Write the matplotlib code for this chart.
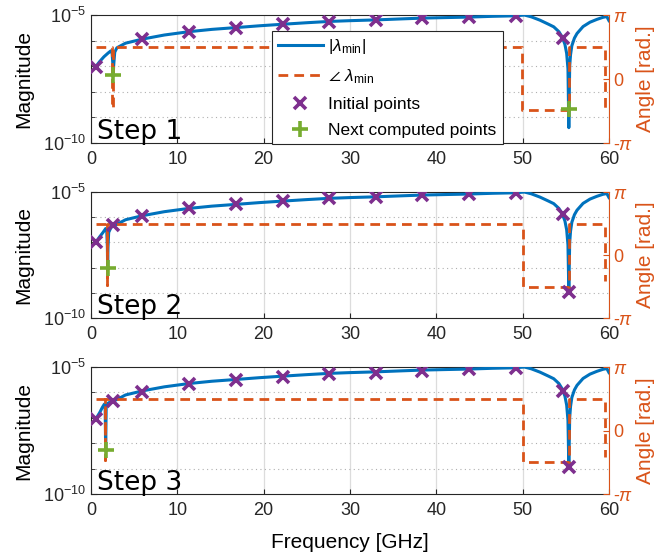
import numpy as np
import matplotlib.pyplot as plt
from matplotlib.ticker import FixedLocator, NullFormatter
from matplotlib.lines import Line2D

plt.rcParams['font.family'] = ['Liberation Sans', 'DejaVu Sans']
plt.rcParams['mathtext.fontset'] = 'custom'
plt.rcParams['mathtext.rm'] = 'Liberation Sans'
plt.rcParams['mathtext.it'] = 'Liberation Sans:italic'
plt.rcParams['mathtext.fallback'] = 'stixsans'

blue = '#0072BD'
orange = '#D95319'
purple = '#7E2F8E'
green = '#77AC30'
axcol = '#262626'

# |lambda_min| in log10, shared part from 3 GHz up to just before the notch near 55 GHz
f_mid = [3.0, 4.0, 5.95, 8.5, 11.35, 14.0, 16.8, 19.5, 22.2, 25.0, 27.6, 30.0, 33.0,
         36.0, 38.4, 41.0, 43.8, 46.5, 49.2, 50.2, 51.0, 52.0, 53.0, 53.6, 54.2, 54.6,
         54.9, 55.1, 55.25]
m_mid = [-6.28, -6.10, -5.94, -5.78, -5.65, -5.56, -5.49, -5.42, -5.36, -5.30, -5.25,
         -5.22, -5.19, -5.15, -5.12, -5.10, -5.08, -5.05, -5.03, -5.0, -5.07, -5.2,
         -5.36, -5.46, -5.65, -5.87, -6.15, -6.5, -7.1]
# right side of the notch, back up to 60 GHz
f_right = [55.45, 55.55, 55.7, 56.0, 56.3, 57.0, 57.8, 58.6, 59.3, 59.75, 60.0]
m_right = [-7.0, -6.55, -6.2, -5.9, -5.72, -5.45, -5.28, -5.17, -5.09, -5.06, -5.22]
f_notch = 55.35
notch_depth = [-9.4, -8.96, -8.95]

# low-frequency part, one per step
f_low1 = [0.55, 1.0, 1.5, 2.0, 2.3, 2.45, 2.55, 2.58, 2.62, 2.75]
m_low1 = [-7.02, -6.82, -6.63, -6.48, -6.40, -6.5, -7.0, -7.34, -7.0, -6.45]
f_low2 = [0.55, 1.0, 1.4, 1.7, 1.82, 1.9, 1.93, 1.97, 2.05, 2.3, 2.6]
m_low2 = [-7.0, -6.78, -6.6, -6.45, -6.5, -7.2, -8.0, -7.2, -6.6, -6.42, -6.33]
f_low3 = [0.55, 1.0, 1.3, 1.55, 1.64, 1.7, 1.76, 1.85, 2.1, 2.6]
m_low3 = [-7.05, -6.8, -6.6, -6.46, -6.55, -8.27, -6.6, -6.45, -6.4, -6.34]

# initial points (purple x)
f_init = [0.55, 5.95, 11.35, 16.8, 22.2, 27.6, 33.0, 38.4, 43.8, 49.2, 54.65]
m_init1 = [-7.02, -5.94, -5.66, -5.50, -5.36, -5.27, -5.21, -5.13, -5.09, -5.04, -5.88]
m_init2 = [-7.0, -5.94, -5.65, -5.49, -5.36, -5.25, -5.19, -5.12, -5.08, -5.05, -5.89]
m_init3 = [-7.04, -5.97, -5.67, -5.51, -5.38, -5.29, -5.22, -5.15, -5.09, -5.05, -5.93]
f_added = [2.6, 55.35]
m_added2 = [-6.32, -8.96]
m_added3 = [-6.34, -8.95]

# next computed points (green +)
f_next1 = [2.58, 55.4]
m_next1 = [-7.34, -8.67]
f_next2 = [1.93]
m_next2 = [-8.0]
f_next3 = [1.7]
m_next3 = [-8.27]

# angle of lambda_min, in units of pi
fa1 = [0.55, 2.42, 2.42, 2.5, 2.5, 49.9, 49.9, 55.38, 55.38, 59.5, 59.5]
a1 = [0.5, 0.5, -0.46, -0.46, 0.5, 0.5, -0.48, -0.48, 0.5, 0.5, -0.46]
fa2 = [0.55, 1.8, 1.8, 1.86, 1.86, 50.0, 50.0, 55.35, 55.35, 59.5, 59.5]
a2 = [0.5, 0.5, -0.47, -0.47, 0.5, 0.5, -0.5, -0.5, 0.5, 0.5, -0.42]
fa3 = [0.55, 1.6, 1.6, 1.66, 1.66, 50.0, 50.0, 55.4, 55.4, 59.5, 59.5]
a3 = [0.5, 0.5, -0.46, -0.46, 0.5, 0.5, -0.5, -0.5, 0.5, 0.5, -0.42]

steps = [
    (f_low1, m_low1, m_init1, [], [], f_next1, m_next1, fa1, a1),
    (f_low2, m_low2, m_init2, f_added, m_added2, f_next2, m_next2, fa2, a2),
    (f_low3, m_low3, m_init3, f_added, m_added3, f_next3, m_next3, fa3, a3),
]

dash = (0, (3.5, 2.2))

fig = plt.figure(figsize=(6.72, 5.55), dpi=100)
boxes = [(0.1354, 0.7423, 0.7708, 0.2306),
         (0.1354, 0.4270, 0.7708, 0.2270),
         (0.1354, 0.1099, 0.7708, 0.2288)]

for i, (fl, ml, mi, fad, mad, fn, mn, fa, a) in enumerate(steps):
    ax = fig.add_axes(boxes[i])
    ax2 = ax.twinx()

    f_curve = fl + f_mid + [f_notch] + f_right
    m_curve = ml + m_mid + [notch_depth[i]] + m_right
    ax.plot(f_curve, 10.0 ** np.array(m_curve), color=blue, lw=2.2, zorder=3)

    ax.set_yscale('log')
    ax.set_ylim(1e-10, 1e-5)
    ax.set_xlim(0, 60)
    ax.set_yticks([1e-10, 1e-5])
    ax.set_yticklabels([r'$10^{-10}$', r'$10^{-5}$'])
    ax.yaxis.set_minor_locator(FixedLocator([1e-9, 1e-8, 1e-7, 1e-6]))
    ax.yaxis.set_minor_formatter(NullFormatter())
    ax.set_xticks(range(0, 61, 10))
    ax.grid(True, which='major', axis='x', color='#dcdcdc', lw=0.9)
    ax.grid(True, which='minor', axis='y', color='#b0b0b0', lw=0.8, ls=(0, (1, 3)))
    ax.set_axisbelow(True)
    ax.tick_params(axis='both', which='both', direction='in', labelsize=13, colors=axcol)
    ax.tick_params(axis='x', pad=6)
    ax.tick_params(axis='y', which='major', length=4)
    ax.tick_params(axis='y', which='minor', length=3)
    ax.set_ylabel('Magnitude', fontsize=15, labelpad=7)
    for s in ['left', 'bottom', 'top']:
        ax.spines[s].set_color(axcol)
    ax.spines['right'].set_visible(False)

    # angle on the right axis
    ax2.plot(fa, np.array(a) * np.pi, color=orange, lw=2.0, ls=dash, zorder=3)
    ax2.set_ylim(-np.pi, np.pi)
    ax2.set_xlim(0, 60)
    ax2.set_yticks([-np.pi, 0, np.pi])
    ax2.set_yticklabels([r'-$\pi$', '0', r'$\pi$'])
    ax2.tick_params(axis='y', direction='in', labelsize=13, colors=orange, length=4, pad=3)
    ax2.spines['right'].set_color(orange)
    for s in ['left', 'bottom', 'top']:
        ax2.spines[s].set_visible(False)
    ax2.set_ylabel('Angle [rad.]', fontsize=15, color=orange, labelpad=2)

    # points drawn above the angle line, in magnitude coordinates
    ax2.plot(f_init + fad, 10.0 ** np.array(mi + mad), ls='none', marker='x', ms=8,
             mew=2.6, color=purple, transform=ax.transData, zorder=5)
    ax2.plot(fn, 10.0 ** np.array(mn), ls='none', marker='+', ms=11, mew=2.6,
             color=green, transform=ax.transData, zorder=6)

    ax.text(0.011, 0.035, 'Step %d' % (i + 1), transform=ax.transAxes, fontsize=19,
            family='DejaVu Sans', va='baseline', ha='left', zorder=10)

    if i == 0:
        handles = [
            Line2D([], [], color=blue, lw=2.2),
            Line2D([], [], color=orange, lw=2.0, ls=dash),
            Line2D([], [], ls='none', marker='x', ms=8, mew=2.6, color=purple),
            Line2D([], [], ls='none', marker='+', ms=11, mew=2.6, color=green),
        ]
        labels = [r'$|\lambda_{\rm min}|$', r'$\angle\ \lambda_{\rm min}$',
                  'Initial points', 'Next computed points']
        leg = ax2.legend(handles, labels, loc='upper left', bbox_to_anchor=(0.349, 0.872),
                         fontsize=12.5, frameon=True, fancybox=False, edgecolor='#262626',
                         framealpha=1, borderpad=0.35, labelspacing=0.62,
                         handlelength=2.6, handletextpad=0.3, borderaxespad=0)
        leg.get_frame().set_linewidth(0.8)
        leg.set_zorder(20)
    if i == 2:
        ax.set_xlabel('Frequency [GHz]', fontsize=15, labelpad=10)

fig.savefig('out.png', dpi=100)
